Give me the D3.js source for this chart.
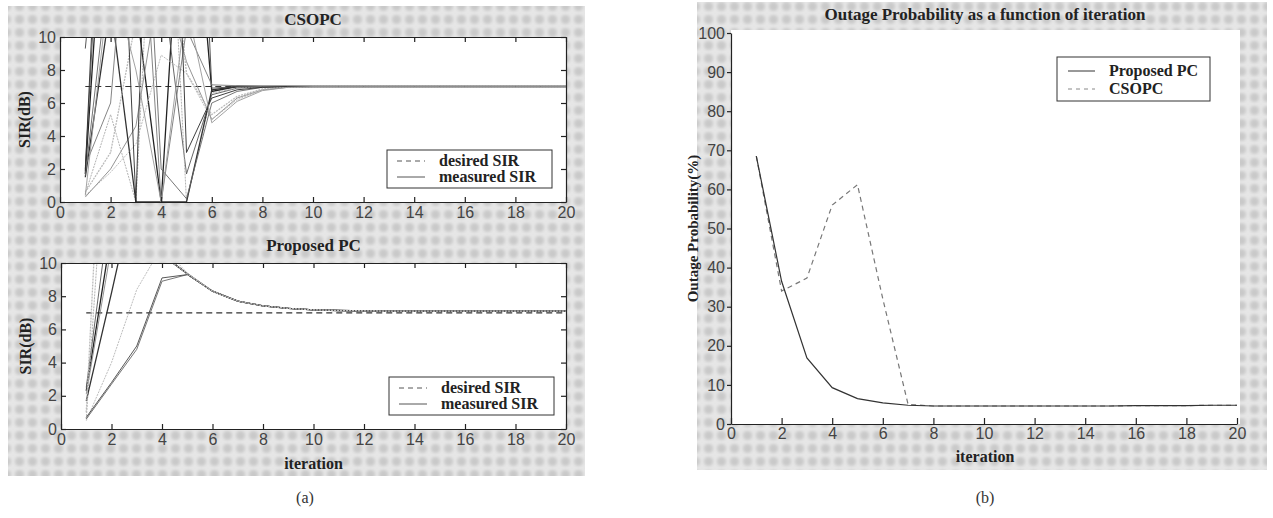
<!DOCTYPE html>
<html><head><meta charset="utf-8">
<script src="https://cdn.jsdelivr.net/npm/d3@7"></script>
<style>body{margin:0;background:#fff}svg{display:block}</style>
</head><body>
<svg id="c" width="1273" height="518"></svg>
<script>
// ---------------- DATA ----------------
const iterations = [1,2,3,4,5,6,7,8,9,10,11,12,13,14,15,16,17,18,19,20];
const xTicks = [0,2,4,6,8,10,12,14,16,18,20];
const sirTicks = [0,2,4,6,8,10];
const outageTicks = [0,10,20,30,40,50,60,70,80,90,100];
const desiredSIR = 7;

// (a) top: CSOPC measured SIR per user (values above 10 leave the plot)
const csopc1  = [1.7,25,12,0,25,6.7,7.0,7.0,7.0,7.0,7,7,7,7,7,7,7,7,7,7];
const csopc2  = [0.3,2.0,4.6,14,8.5,5.0,6.3,6.8,6.95,7,7,7,7,7,7,7,7,7,7,7];
const csopc3  = [2.0,30,20,14,1.7,6.5,6.9,7.0,7,7,7,7,7,7,7,7,7,7,7,7];
const csopc4  = [0.5,5.3,0,30,0,6.6,6.9,7.0,7,7,7,7,7,7,7,7,7,7,7,7];
const csopc5  = [1.5,12,0,0,0,6.8,7.0,7.0,7,7,7,7,7,7,7,7,7,7,7,7];
const csopc6  = [0.4,1.8,3.5,8.9,7.8,5.0,6.2,6.8,6.95,7,7,7,7,7,7,7,7,7,7,7];
const csopc7  = [1.6,15,30,2.0,0.2,6.0,6.7,6.95,7,7,7,7,7,7,7,7,7,7,7,7];
const csopc8  = [9.3,25,30,30,40,6.9,7.0,7.0,7,7,7,7,7,7,7,7,7,7,7,7];
const csopc9  = [0.6,3,11,22,7.8,5.3,6.4,6.85,6.97,7,7,7,7,7,7,7,7,7,7,7];
const csopc10 = [2.2,6,24,0,10.5,7.1,7.05,7.0,7,7,7,7,7,7,7,7,7,7,7,7];
const csopc11 = [1.9,35,0,45,3.0,6.3,6.8,6.95,7,7,7,7,7,7,7,7,7,7,7,7];
const csopc12 = [0.4,14,8,0,12,4.8,6.1,6.75,6.95,7,7,7,7,7,7,7,7,7,7,7];
const csopcUsers = [csopc1,csopc2,csopc3,csopc4,csopc5,csopc6,csopc7,csopc8,csopc9,csopc10,csopc11,csopc12];

// (a) bottom: Proposed PC measured SIR per user
const prop1 = [2.3,11.9,16,10.5,9.35,8.3,7.7,7.42,7.27,7.18,7.14,7.12,7.1,7.1,7.1,7.1,7.1,7.1,7.1,7.1];
const prop2 = [2.1,11.0,16,10.5,9.35,8.3,7.7,7.42,7.27,7.18,7.14,7.12,7.1,7.1,7.1,7.1,7.1,7.1,7.1,7.1];
const prop3 = [2.5,14,18,10.6,9.35,8.3,7.7,7.42,7.27,7.18,7.14,7.12,7.1,7.1,7.1,7.1,7.1,7.1,7.1,7.1];
const prop4 = [0.6,23,18,10.5,9.35,8.3,7.7,7.42,7.27,7.18,7.14,7.12,7.1,7.1,7.1,7.1,7.1,7.1,7.1,7.1];
const prop5 = [1.7,8.2,15,10.5,9.35,8.3,7.7,7.42,7.27,7.18,7.14,7.12,7.1,7.1,7.1,7.1,7.1,7.1,7.1,7.1];
const prop6 = [0.5,4.0,8.4,11,9.4,8.3,7.7,7.42,7.27,7.18,7.14,7.12,7.1,7.1,7.1,7.1,7.1,7.1,7.1,7.1];
const prop7 = [0.6,2.7,4.8,8.9,9.3,8.3,7.7,7.42,7.27,7.18,7.14,7.12,7.1,7.1,7.1,7.1,7.1,7.1,7.1,7.1];
const prop8 = [0.7,2.8,5.0,9.1,9.3,8.3,7.7,7.42,7.27,7.18,7.14,7.12,7.1,7.1,7.1,7.1,7.1,7.1,7.1,7.1];
const prop9 = [1.0,31,20,10.5,9.35,8.3,7.7,7.42,7.27,7.18,7.14,7.12,7.1,7.1,7.1,7.1,7.1,7.1,7.1,7.1];
const propUsers = [prop1,prop2,prop3,prop4,prop5,prop6,prop7,prop8,prop9];

// (b) outage probability (%)
const outageProposed = [68.5,36.5,16.9,9.3,6.5,5.4,4.8,4.6,4.6,4.6,4.6,4.6,4.6,4.6,4.6,4.7,4.7,4.7,4.8,4.8];
const outageCSOPC    = [68.5,34,37.3,56,61.2,32,5.0,4.6,4.6,4.6,4.6,4.6,4.6,4.6,4.6,4.7,4.7,4.7,4.8,4.8];

// ---------------- DRAWING ----------------
const svg = d3.select('#c');
const defs = svg.append('defs');
const blur = defs.append('filter').attr('id','soft').attr('x','-50%').attr('y','-50%').attr('width','200%').attr('height','200%');
blur.append('feGaussianBlur').attr('stdDeviation',1.6);
const pat = defs.append('pattern').attr('id','halftone').attr('patternUnits','userSpaceOnUse')
  .attr('width',13).attr('height',13);
pat.append('rect').attr('width',13).attr('height',13).attr('fill','#e6e6e6');
pat.append('circle').attr('cx',6.5).attr('cy',6.5).attr('r',4.6).attr('fill','#c9c9c9').attr('filter','url(#soft)');

svg.append('rect').attr('x',8).attr('y',6).attr('width',577).attr('height',470).attr('fill','url(#halftone)');
svg.append('rect').attr('x',697).attr('y',2).attr('width',570).attr('height',468).attr('fill','url(#halftone)');

const serif = "'Liberation Serif','DejaVu Serif',serif";
const sans = "'Liberation Sans','DejaVu Sans',sans-serif";
const userColors = ['#222','#888','#555','#aaa','#333','#b5b5b5','#666','#444','#bbb','#777','#2a2a2a','#999'];
const userDash = [null,null,null,'2,1',null,'2,1',null,null,'2,1',null,null,null];
const FS = 16;

function styleAxis(g){
  g.selectAll('path,line').attr('stroke','#222').attr('stroke-width',1.2);
  g.selectAll('text').attr('font-family',sans).attr('font-size',FS).attr('fill','#444');
}

function sirPanel(opt){
  const x = d3.scaleLinear().domain([0,20]).range([opt.l,opt.r]);
  const y = d3.scaleLinear().domain([0,10]).range([opt.b,opt.t]);
  const g = svg.append('g');
  g.append('rect').attr('x',opt.l).attr('y',opt.t).attr('width',opt.r-opt.l).attr('height',opt.b-opt.t).attr('fill','#fff');
  const cid = 'clip'+opt.id;
  defs.append('clipPath').attr('id',cid).append('rect')
    .attr('x',opt.l).attr('y',opt.t).attr('width',opt.r-opt.l).attr('height',opt.b-opt.t);
  const line = d3.line().x((d,i)=>x(iterations[i])).y(d=>y(d));
  const lg = g.append('g').attr('clip-path','url(#'+cid+')');
  lg.append('path').datum(iterations.map(()=>desiredSIR)).attr('d',line)
    .attr('fill','none').attr('stroke','#333').attr('stroke-width',1.2).attr('stroke-dasharray','6,4');
  opt.users.forEach((u,k)=>{
    lg.append('path').datum(u).attr('d',line).attr('fill','none')
      .attr('stroke',userColors[k%userColors.length]).attr('stroke-width',k%4===0?1.3:0.9)
      .attr('stroke-dasharray',userDash[k%userDash.length]);
  });
  const xb = g.append('g').attr('transform',`translate(0,${opt.b})`)
    .call(d3.axisBottom(x).tickValues(xTicks).tickSize(-5).tickSizeOuter(0).tickPadding(5).tickFormat(d3.format('d')));
  styleAxis(xb);
  const xt = g.append('g').attr('transform',`translate(0,${opt.t})`)
    .call(d3.axisTop(x).tickValues(xTicks).tickSize(-5).tickSizeOuter(0).tickFormat(''));
  styleAxis(xt);
  const yl = g.append('g').attr('transform',`translate(${opt.l},0)`)
    .call(d3.axisLeft(y).tickValues(sirTicks).tickSize(-5).tickSizeOuter(0).tickPadding(4).tickFormat(d3.format('d')));
  styleAxis(yl);
  const yr = g.append('g').attr('transform',`translate(${opt.r},0)`)
    .call(d3.axisRight(y).tickValues(sirTicks).tickSize(-5).tickSizeOuter(0).tickFormat(''));
  styleAxis(yr);
  g.append('text').attr('x',(opt.l+opt.r)/2).attr('y',opt.t-12).attr('text-anchor','middle')
    .attr('font-family',serif).attr('font-weight','bold').attr('font-size',17).attr('fill','#222').text(opt.title);
  g.append('text').attr('transform',`translate(${opt.l-30},${(opt.t+opt.b)/2}) rotate(-90)`)
    .attr('text-anchor','middle').attr('font-family',serif).attr('font-weight','bold').attr('font-size',FS).attr('fill','#222').text('SIR(dB)');
  const L = opt.legend;
  g.append('rect').attr('x',L.x).attr('y',L.y).attr('width',165).attr('height',38)
    .attr('fill','#fff').attr('stroke','#333').attr('stroke-width',1);
  g.append('line').attr('x1',L.x+10).attr('x2',L.x+38).attr('y1',L.y+11).attr('y2',L.y+11)
    .attr('stroke','#555').attr('stroke-dasharray','5,4');
  g.append('line').attr('x1',L.x+10).attr('x2',L.x+38).attr('y1',L.y+27).attr('y2',L.y+27)
    .attr('stroke','#555');
  g.append('text').attr('x',L.x+52).attr('y',L.y+16).attr('font-family',serif).attr('font-weight','bold')
    .attr('font-size',FS).attr('fill','#222').text('desired SIR');
  g.append('text').attr('x',L.x+52).attr('y',L.y+32).attr('font-family',serif).attr('font-weight','bold')
    .attr('font-size',FS).attr('fill','#222').text('measured SIR');
  return {x,y};
}

sirPanel({id:'a1',l:60,r:566,t:37,b:202,title:'CSOPC',users:csopcUsers,legend:{x:387,y:150}});
sirPanel({id:'a2',l:61,r:566,t:263,b:429,title:'Proposed PC',users:propUsers,legend:{x:389,y:377}});
svg.append('text').attr('x',(61+566)/2).attr('y',469).attr('text-anchor','middle')
  .attr('font-family',serif).attr('font-weight','bold').attr('font-size',FS).attr('fill','#222').text('iteration');

// ---------- panel (b) ----------
(function(){
  const l=731,r=1237,t=33,b=424;
  const x = d3.scaleLinear().domain([0,20]).range([l,r]);
  const y = d3.scaleLinear().domain([0,100]).range([b,t]);
  const g = svg.append('g');
  g.append('rect').attr('x',l).attr('y',t-3).attr('width',r-l+3).attr('height',b-t+3).attr('fill','#fff');
  const line = d3.line().x((d,i)=>x(iterations[i])).y(d=>y(d));
  g.append('path').datum(outageCSOPC).attr('d',line).attr('fill','none')
    .attr('stroke','#777').attr('stroke-width',1.2).attr('stroke-dasharray','5,4');
  g.append('path').datum(outageProposed).attr('d',line).attr('fill','none')
    .attr('stroke','#333').attr('stroke-width',1.2);
  const xb = g.append('g').attr('transform',`translate(0,${b})`)
    .call(d3.axisBottom(x).tickValues(xTicks).tickSize(-6).tickSizeOuter(0).tickPadding(4).tickFormat(d3.format('d')));
  styleAxis(xb);
  const yl = g.append('g').attr('transform',`translate(${l},0)`)
    .call(d3.axisLeft(y).tickValues(outageTicks).tickSize(4).tickSizeOuter(0).tickPadding(2).tickFormat(d3.format('d')));
  styleAxis(yl);
  g.append('text').attr('x',985).attr('y',20).attr('text-anchor','middle')
    .attr('font-family',serif).attr('font-weight','bold').attr('font-size',17).attr('fill','#222')
    .text('Outage Probability as a function of iteration');
  g.append('text').attr('x',985).attr('y',462).attr('text-anchor','middle')
    .attr('font-family',serif).attr('font-weight','bold').attr('font-size',FS).attr('fill','#222').text('iteration');
  g.append('text').attr('transform',`translate(698,${(t+b)/2}) rotate(-90)`).attr('text-anchor','middle')
    .attr('font-family',serif).attr('font-weight','bold').attr('font-size',15).attr('fill','#222').text('Outage Probability(%)');
  const Lx=1057, Ly=57;
  g.append('rect').attr('x',Lx).attr('y',Ly).attr('width',153).attr('height',44)
    .attr('fill','#fff').attr('stroke','#333').attr('stroke-width',1);
  g.append('line').attr('x1',Lx+11).attr('x2',Lx+38).attr('y1',Ly+14).attr('y2',Ly+14).attr('stroke','#333');
  g.append('line').attr('x1',Lx+11).attr('x2',Lx+38).attr('y1',Ly+32).attr('y2',Ly+32)
    .attr('stroke','#888').attr('stroke-dasharray','4,4');
  g.append('text').attr('x',Lx+52).attr('y',Ly+19).attr('font-family',serif).attr('font-weight','bold')
    .attr('font-size',FS).attr('fill','#222').text('Proposed PC');
  g.append('text').attr('x',Lx+52).attr('y',Ly+37).attr('font-family',serif).attr('font-weight','bold')
    .attr('font-size',FS).attr('fill','#222').text('CSOPC');
})();

svg.append('text').attr('x',305).attr('y',503).attr('text-anchor','middle').attr('font-family',serif)
  .attr('font-size',16).attr('fill','#333').text('(a)');
svg.append('text').attr('x',985).attr('y',503).attr('text-anchor','middle').attr('font-family',serif)
  .attr('font-size',16).attr('fill','#333').text('(b)');
</script>
</body></html>
